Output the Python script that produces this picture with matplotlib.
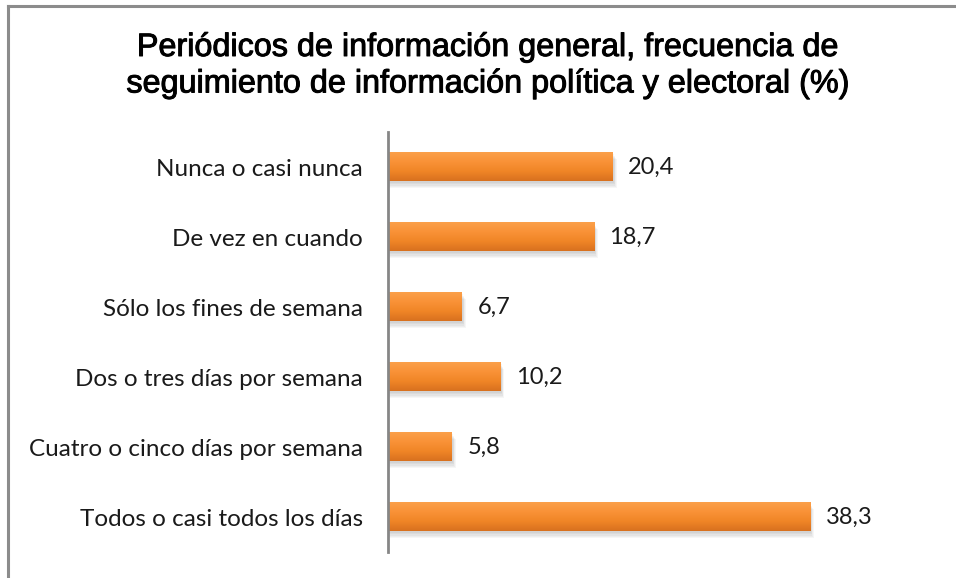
import numpy as np
import matplotlib.pyplot as plt
import matplotlib.patheffects as pe
from matplotlib.colors import LinearSegmentedColormap
from matplotlib.patches import Rectangle

# ==========================================
# Data (bottom to top, as drawn)
# ==========================================
categories = ["Todos o casi todos los días",
              "Cuatro o cinco días por semana",
              "Dos o tres días por semana",
              "Sólo los fines de semana",
              "De vez en cuando",
              "Nunca o casi nunca"]
values = [38.3, 5.8, 10.2, 6.7, 18.7, 20.4]
value_labels = ["38,3", "5,8", "10,2", "6,7", "18,7", "20,4"]

title = "Periódicos de información general, frecuencia de\nseguimiento de información política y electoral (%)"

# ==========================================
# Figure
# ==========================================
fig = plt.figure(figsize=(9.56, 5.78), dpi=100)

# chart frame (left and top edge visible)
fig.add_artist(plt.Line2D([7.5 / 956, 7.5 / 956], [0, 1 - 5.5 / 578],
                          color="#8c8c8c", linewidth=2.2))
fig.add_artist(plt.Line2D([7.5 / 956, 1], [1 - 5.5 / 578, 1 - 5.5 / 578],
                          color="#8c8c8c", linewidth=2.2))

ax = fig.add_axes([388 / 956, 1 - 552 / 578, 551 / 956, 420 / 578])

# orange gradient, lighter on top
cmap = LinearSegmentedColormap.from_list("orange", ["#d8711f", "#f08526", "#f99237", "#fba04a"])
grad = np.linspace(0, 1, 64).reshape(-1, 1)
bar_h = 0.41

for i, v in enumerate(values):
    # soft shadow below bar
    for k in range(5):
        off = 0.025 + k * 0.018
        ax.add_patch(Rectangle((0, i - bar_h / 2 - off), v + 0.1 + k * 0.06, bar_h,
                               facecolor="#000000", alpha=0.035, linewidth=0, zorder=1))
    ax.imshow(grad, cmap=cmap, aspect="auto", origin="lower",
              extent=(0, v, i - bar_h / 2, i + bar_h / 2), zorder=2)
    ax.text(v + 1.4, i, value_labels[i], va="center", ha="left",
            fontsize=17, family="Lato", color="#1a1a1a")

ax.set_xlim(0, 50)
ax.set_ylim(-0.5, len(categories) - 0.5)
ax.set_yticks(range(len(categories)))
ax.set_yticklabels(categories, fontsize=17.5, family="Lato", color="#1a1a1a")
ax.tick_params(axis="y", length=0, pad=18)
ax.set_xticks([])

for side in ["top", "right", "bottom"]:
    ax.spines[side].set_visible(False)
ax.spines["left"].set_color("#868686")
ax.spines["left"].set_linewidth(2)

fig.text(488 / 956, 1 - 33 / 578, title, ha="center", va="top",
         fontsize=23.3, family="Liberation Sans", color="black", linespacing=1.28,
         path_effects=[pe.withStroke(linewidth=0.7, foreground="black")])

fig.savefig("out.png", dpi=100)
